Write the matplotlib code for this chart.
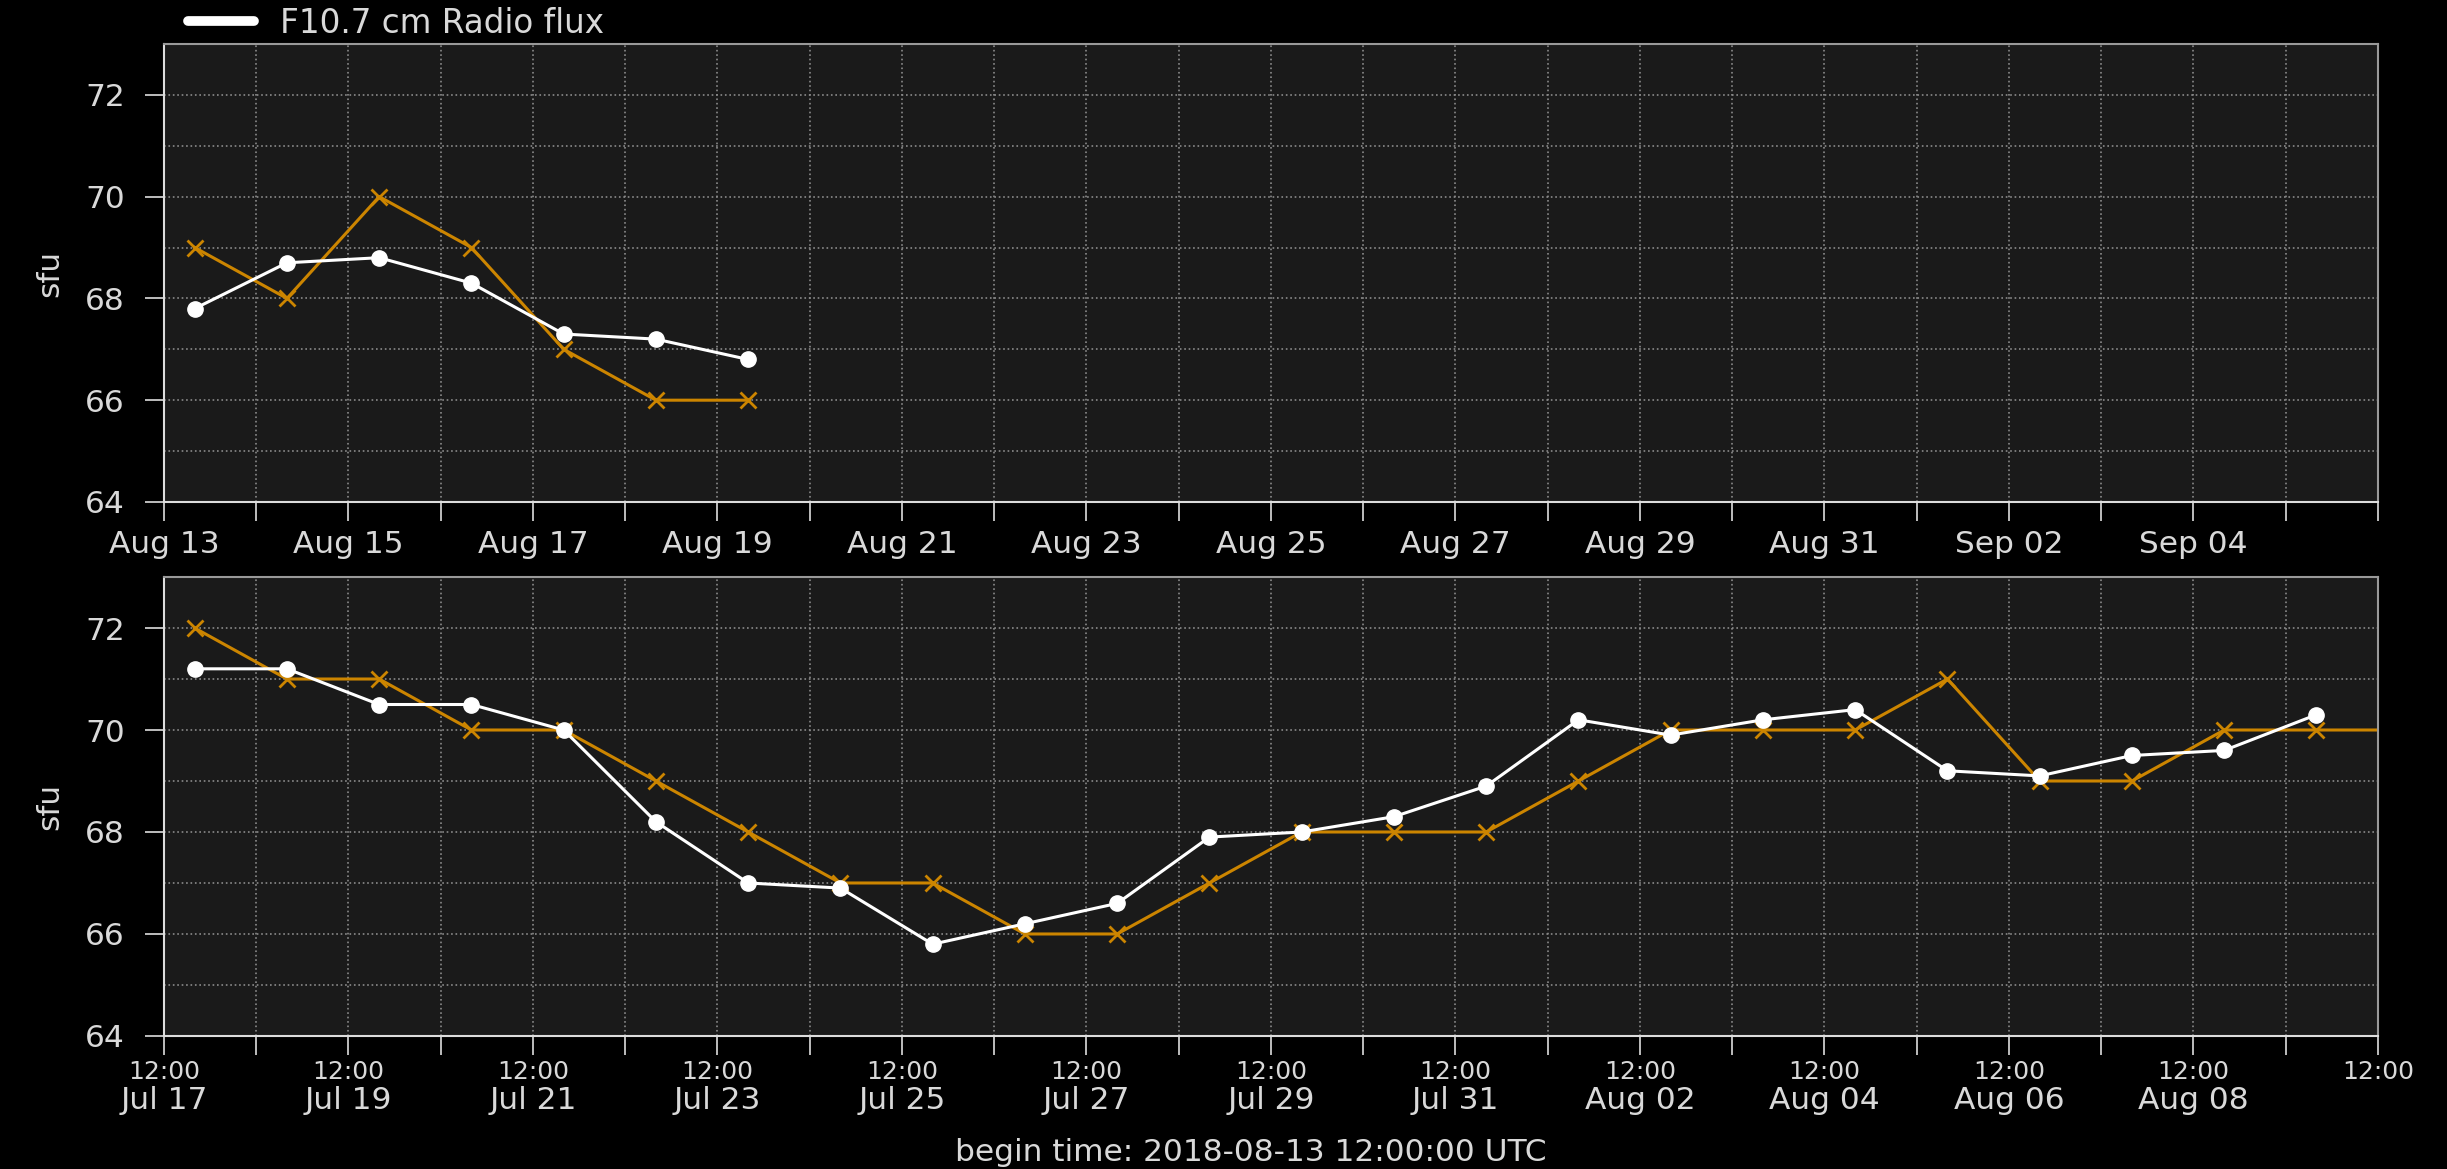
import matplotlib
matplotlib.use('Agg')
import matplotlib.pyplot as plt
import matplotlib.dates as mdates
from matplotlib.ticker import FixedLocator, FixedFormatter, MultipleLocator
from matplotlib.lines import Line2D
import pandas as pd

# upper panel: Aug 13 .. Aug 19 (daily values at 20:00 UTC)
top_dates = pd.date_range('2018-08-13 20:00', periods=7, freq='D')
top_measured = [67.8, 68.7, 68.8, 68.3, 67.3, 67.2, 66.8]
top_forecast = [69, 68, 70, 69, 67, 66, 66]

# lower panel: Jul 17 .. Aug 09
bottom_dates = pd.date_range('2018-07-17 20:00', periods=24, freq='D')
bottom_measured = [71.2, 71.2, 70.5, 70.5, 70.0, 68.2, 67.0, 66.9, 65.8, 66.2,
                   66.6, 67.9, 68.0, 68.3, 68.9, 70.2, 69.9, 70.2, 70.4, 69.2,
                   69.1, 69.5, 69.6, 70.3]
forecast_dates = pd.date_range('2018-07-17 20:00', periods=25, freq='D')
bottom_forecast = [72, 71, 71, 70, 70, 69, 68, 67, 67, 66, 66, 67, 68, 68, 68,
                   69, 70, 70, 70, 71, 69, 69, 70, 70, 70]

top_start = pd.Timestamp('2018-08-13 12:00')
bottom_start = pd.Timestamp('2018-07-17 12:00')
n_days = 24

WHITE = '#ffffff'
ORANGE = '#cc8500'
TEXT = '#d9d9d9'
FS = 22.5

fig = plt.figure(figsize=(24.47, 11.69), dpi=100, facecolor='black')
ax_top = fig.add_axes([0.0670, 0.5706, 0.9048, 0.3918])
ax_bot = fig.add_axes([0.0670, 0.1138, 0.9048, 0.3926])


def style_axis(ax, start, hours):
    ax.set_facecolor('#1a1a1a')
    ticks = pd.date_range(start, periods=n_days + 1, freq='D')
    ax.set_ylim(64, 73)
    ax.xaxis.set_major_locator(FixedLocator(mdates.date2num(ticks)))
    labels = [t.strftime('%b %d') if i % 2 == 0 and i < n_days else ''
              for i, t in enumerate(ticks)]
    ax.xaxis.set_major_formatter(FixedFormatter(labels))
    ax.yaxis.set_major_locator(MultipleLocator(2))
    ax.yaxis.set_minor_locator(MultipleLocator(1))
    ax.tick_params(which='major', length=14, width=1.3, color='#cccccc',
                   labelcolor=TEXT, labelsize=FS)
    ax.tick_params(axis='y', which='major', pad=14)
    ax.tick_params(axis='y', which='minor', length=0)
    if hours:
        ax.xaxis.remove_overlapping_locs = False
        even = ticks[::2]
        ax.xaxis.set_minor_locator(FixedLocator(mdates.date2num(even)))
        ax.xaxis.set_minor_formatter(FixedFormatter(['12:00'] * len(even)))
        ax.tick_params(axis='x', which='minor', length=0, pad=17,
                       labelsize=18, labelcolor=TEXT)
        ax.tick_params(axis='x', which='major', pad=22)
    else:
        ax.tick_params(axis='x', which='major', pad=6)
    ax.grid(True, which='major', axis='x', color='#8a8a8a', linestyle=':', linewidth=1.2)
    ax.grid(True, which='both', axis='y', color='#8a8a8a', linestyle=':', linewidth=1.2)
    for side in ['left', 'bottom']:
        ax.spines[side].set_color('#dddddd')
        ax.spines[side].set_linewidth(1.5)
    for side in ['top', 'right']:
        ax.spines[side].set_color('#999999')
        ax.spines[side].set_linewidth(1.5)
    ax.set_ylabel('sfu', color=TEXT, fontsize=FS)
    ax.yaxis.set_label_coords(-0.045, 0.5)


style_axis(ax_top, top_start, False)
style_axis(ax_bot, bottom_start, True)

ax_top.plot(top_dates, top_forecast, color=ORANGE, lw=2.2, marker='x',
            ms=12, mew=2)
ax_top.plot(top_dates, top_measured, color=WHITE, lw=2.2, marker='o', ms=11)
ax_bot.plot(forecast_dates, bottom_forecast, color=ORANGE, lw=2.2, marker='x',
            ms=12, mew=2)
ax_bot.plot(bottom_dates, bottom_measured, color=WHITE, lw=2.2, marker='o', ms=11)

for ax, start in [(ax_top, top_start), (ax_bot, bottom_start)]:
    ticks = pd.date_range(start, periods=n_days + 1, freq='D')
    ax.set_xlim(mdates.date2num(ticks[0]), mdates.date2num(ticks[-1]))

handle = Line2D([], [], color=WHITE, lw=7, solid_capstyle='round')
fig.legend([handle], ['F10.7 cm Radio flux'], loc='center left',
           bbox_to_anchor=(0.077, 0.980), frameon=False, fontsize=23.5,
           labelcolor=TEXT, handlelength=2.0, handletextpad=0.8,
           borderpad=0, borderaxespad=0)

fig.text(0.5112, 0.0140, 'begin time: 2018-08-13 12:00:00 UTC', color=TEXT,
         fontsize=FS, ha='center', va='center')

fig.savefig('out.png', dpi=100, facecolor='black')
